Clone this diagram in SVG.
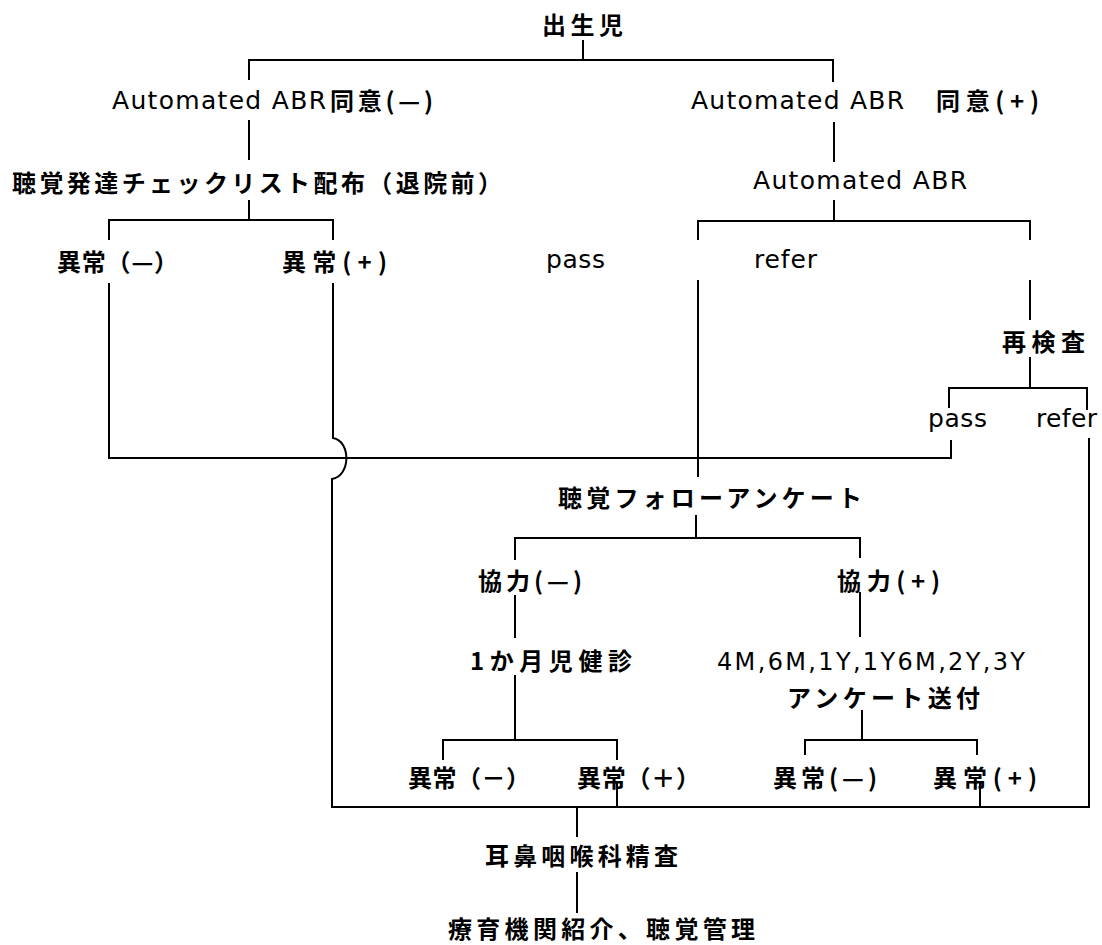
<svg xmlns="http://www.w3.org/2000/svg" width="1102" height="945" viewBox="0 0 1102 945">
<style>
.ln{stroke:#000;stroke-width:2;fill:none}
.j{font-family:"Noto Sans CJK JP","Noto Sans",sans-serif;font-size:24px;font-weight:700;fill:#000}
.l{font-family:"DejaVu Sans","Noto Sans CJK JP",sans-serif;font-size:25px;fill:#000}
.n{font-family:"DejaVu Sans",sans-serif;font-size:24px;fill:#000}
</style>
<rect width="1102" height="945" fill="#fff"/>
<g id="connectors">
<path class="ln" d="M583,40V60"/>
<path class="ln" d="M249,80V60H833V82"/>
<path class="ln" d="M249,120V160"/>
<path class="ln" d="M249,200V220"/>
<path class="ln" d="M109,240V220H333V240"/>
<path class="ln" d="M834,122V162"/>
<path class="ln" d="M834,200V221"/>
<path class="ln" d="M698,240V221H1030V240"/>
<path class="ln" d="M109,283V458H951V440"/>
<path class="ln" d="M333,283V438C351,441 351,476 332,479V807H1089V438"/>
<path class="ln" d="M698,280V477"/>
<path class="ln" d="M1030,280V320"/>
<path class="ln" d="M1030,357V388"/>
<path class="ln" d="M949,408V388H1087V410"/>
<path class="ln" d="M696,515V538"/>
<path class="ln" d="M515,560V538H860V558"/>
<path class="ln" d="M515,595V638"/>
<path class="ln" d="M515,675V740"/>
<path class="ln" d="M443,760V740H617V760"/>
<path class="ln" d="M860,592V637"/>
<path class="ln" d="M862,710V740"/>
<path class="ln" d="M805,755V740H977V755"/>
<path class="ln" d="M617,782V807"/>
<path class="ln" d="M980,783V807"/>
<path class="ln" d="M577,807V837"/>
<path class="ln" d="M577,872V913"/>
</g>
<g id="n-birth"><text class="j" x="542" y="34" textLength="81" lengthAdjust="spacing">出生児</text></g>
<g id="n-abr-no"><text class="l" x="112" y="109" textLength="214" lengthAdjust="spacing">Automated ABR</text><text class="j" x="330" y="110" textLength="103" lengthAdjust="spacing">同意(—)</text></g>
<g id="n-abr-yes"><text class="l" x="691" y="109" textLength="213" lengthAdjust="spacing">Automated ABR</text><text class="j" x="936" y="110" textLength="103" lengthAdjust="spacing">同意(+)</text></g>
<g id="n-checklist"><text class="j" x="12" y="192" textLength="490" lengthAdjust="spacing">聴覚発達チェックリスト配布（退院前）</text></g>
<g id="n-abr"><text class="l" x="753" y="189" textLength="214" lengthAdjust="spacing">Automated ABR</text></g>
<g id="n-ab-neg1"><text class="j" x="57" y="271" textLength="121" lengthAdjust="spacing">異常（—）</text></g>
<g id="n-ab-pos1"><text class="j" x="282" y="271" textLength="105" lengthAdjust="spacing">異常(+)</text></g>
<g id="n-pass1"><text class="l" x="546" y="268" textLength="59" lengthAdjust="spacing">pass</text></g>
<g id="n-refer1"><text class="l" x="754" y="268" textLength="63" lengthAdjust="spacing">refer</text></g>
<g id="n-retest"><text class="j" x="1002" y="351" textLength="83" lengthAdjust="spacing">再検査</text></g>
<g id="n-pass2"><text class="l" x="928" y="427" textLength="59" lengthAdjust="spacing">pass</text></g>
<g id="n-refer2"><text class="l" x="1036" y="427" textLength="61" lengthAdjust="spacing">refer</text></g>
<g id="n-follow"><text class="j" x="558" y="507" textLength="304" lengthAdjust="spacing">聴覚フォローアンケート</text></g>
<g id="n-coop-neg"><text class="j" x="478" y="590" textLength="104" lengthAdjust="spacing">協力(—)</text></g>
<g id="n-coop-pos"><text class="j" x="837" y="590" textLength="103" lengthAdjust="spacing">協力(+)</text></g>
<g id="n-1month"><text class="j" x="470" y="670" textLength="162" lengthAdjust="spacing">1か月児健診</text></g>
<g id="n-survey"><text class="n" x="717" y="670" textLength="308" lengthAdjust="spacing">4M,6M,1Y,1Y6M,2Y,3Y</text><text class="j" x="787" y="707" textLength="193" lengthAdjust="spacing">アンケート送付</text></g>
<g id="n-ab-neg2"><text class="j" x="408" y="787" textLength="122" lengthAdjust="spacing">異常（－）</text></g>
<g id="n-ab-pos2"><text class="j" x="577" y="787" textLength="123" lengthAdjust="spacing">異常（＋）</text></g>
<g id="n-ab-neg3"><text class="j" x="773" y="787" textLength="104" lengthAdjust="spacing">異常(—)</text></g>
<g id="n-ab-pos3"><text class="j" x="933" y="787" textLength="104" lengthAdjust="spacing">異常(+)</text></g>
<g id="n-ent"><text class="j" x="485" y="865" textLength="193" lengthAdjust="spacing">耳鼻咽喉科精査</text></g>
<g id="n-refer-final"><text class="j" x="448" y="938" textLength="307" lengthAdjust="spacing">療育機関紹介、聴覚管理</text></g>
</svg>
